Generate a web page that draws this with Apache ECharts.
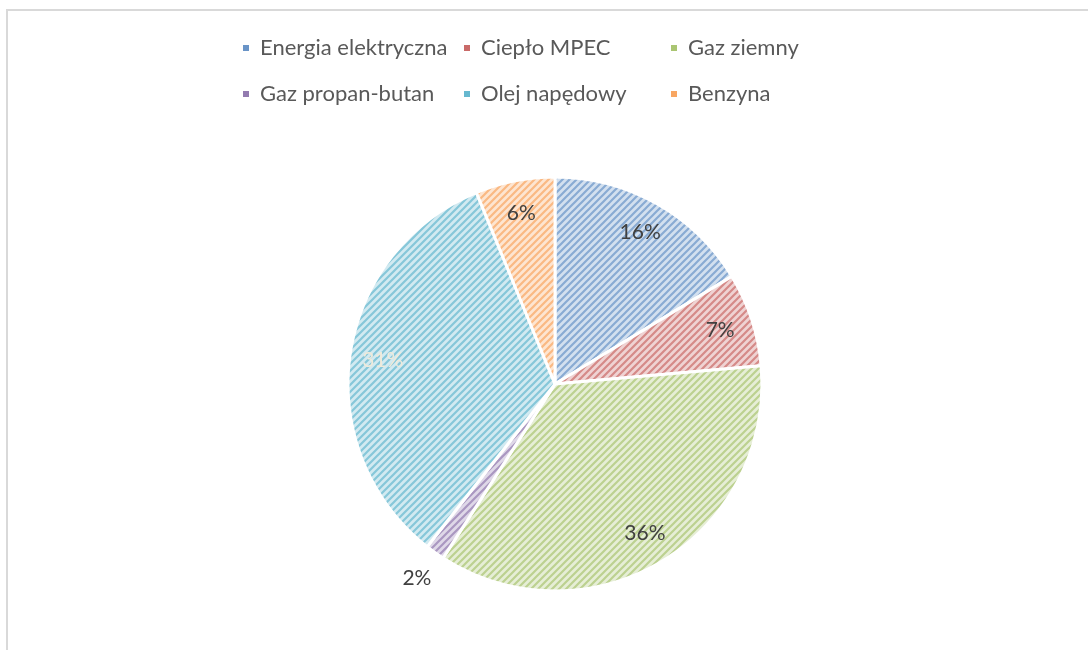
<!DOCTYPE html>
<html>
<head>
<meta charset="utf-8">
<script src="https://cdn.jsdelivr.net/npm/echarts@6/dist/echarts.min.js"></script>
<style>
  html, body { margin: 0; padding: 0; background: #fff; }
  #frame {
    position: absolute; left: 6px; top: 9px; width: 1200px; height: 800px;
    border-top: 2px solid #d9d9d9; border-left: 2px solid #d9d9d9;
  }
  #chart { position: absolute; left: 0; top: 0; width: 1088px; height: 650px; }
</style>
</head>
<body>
<div id="frame"></div>
<div id="chart"></div>
<script>
// dane
var categories = ["Energia elektryczna", "Ciepło MPEC", "Gaz ziemny", "Gaz propan-butan", "Olej napędowy", "Benzyna"];
var values = [16.3, 7.3, 35.5, 1.5, 33.2, 6.2];
var percentLabels = ["16%", "7%", "36%", "2%", "31%", "6%"];
var baseColors = ["#4F81BD", "#C0504D", "#9BBB59", "#8064A2", "#4BACC6", "#F79646"];

function tint(hex, t) {
  var n = parseInt(hex.slice(1), 16);
  var r = (n >> 16) & 255, g = (n >> 8) & 255, b = n & 255;
  r = Math.round(r + (255 - r) * t);
  g = Math.round(g + (255 - g) * t);
  b = Math.round(b + (255 - b) * t);
  return "rgb(" + r + "," + g + "," + b + ")";
}

// ukośne paski jak w Excelu
function stripes(color) {
  var s = 7;
  var c = document.createElement("canvas");
  c.width = s; c.height = s;
  var g = c.getContext("2d");
  g.fillStyle = tint(color, 0.75);
  g.fillRect(0, 0, s, s);
  g.strokeStyle = tint(color, 0.33);
  g.lineWidth = 2.2;
  g.beginPath();
  g.moveTo(-1, s + 1); g.lineTo(s + 1, -1);
  g.moveTo(-1, 1); g.lineTo(1, -1);
  g.moveTo(s - 1, s + 1); g.lineTo(s + 1, s - 1);
  g.stroke();
  return c;
}

var chart = echarts.init(document.getElementById("chart"), null, { renderer: "canvas" });

var pieData = categories.map(function (name, i) {
  var item = {
    name: name,
    value: values[i],
    itemStyle: { color: { image: stripes(baseColors[i]), repeat: "repeat" } }
  };
  if (i === 4) {
    item.label = { color: "#EFEADB" };
  }
  return item;
});

function legendPart(left, names) {
  return {
    orient: "vertical",
    left: left,
    top: 32,
    itemGap: 24,
    itemWidth: 8,
    itemHeight: 8,
    icon: "rect",
    selectedMode: false,
    textStyle: { fontFamily: "Lato", fontSize: 22, color: "#595959", padding: [0, 0, 0, 5] },
    data: names.map(function (n) {
      return { name: n, itemStyle: { color: tint(baseColors[categories.indexOf(n)], 0.15) } };
    })
  };
}

chart.setOption({
  animation: false,
  legend: [
    legendPart(236, [categories[0], categories[3]]),
    legendPart(457, [categories[1], categories[4]]),
    legendPart(664, [categories[2], categories[5]])
  ],
  series: [
    {
      type: "pie",
      center: [555, 384],
      radius: [0, 207],
      startAngle: 90,
      clockwise: true,
      silent: true,
      emphasis: { disabled: true },
      itemStyle: { borderColor: "#ffffff", borderWidth: 3 },
      label: {
        show: true,
        position: "inside",
        fontFamily: "Lato",
        fontSize: 21,
        color: "#404040",
        formatter: function (p) { return percentLabels[p.dataIndex]; }
      },
      labelLine: { show: false },
      labelLayout: function (p) {
        var lay = chart.getModel().getSeriesByIndex(0).getData().getItemLayout(p.dataIndex);
        var mid = (lay.startAngle + lay.endAngle) / 2;
        var k = p.dataIndex === 3 ? 1.15 : 0.84;
        return {
          x: lay.cx + lay.r * k * Math.cos(mid),
          y: lay.cy + lay.r * k * Math.sin(mid),
          align: "center",
          verticalAlign: "middle"
        };
      },
      data: pieData
    }
  ]
});
</script>
</body>
</html>
